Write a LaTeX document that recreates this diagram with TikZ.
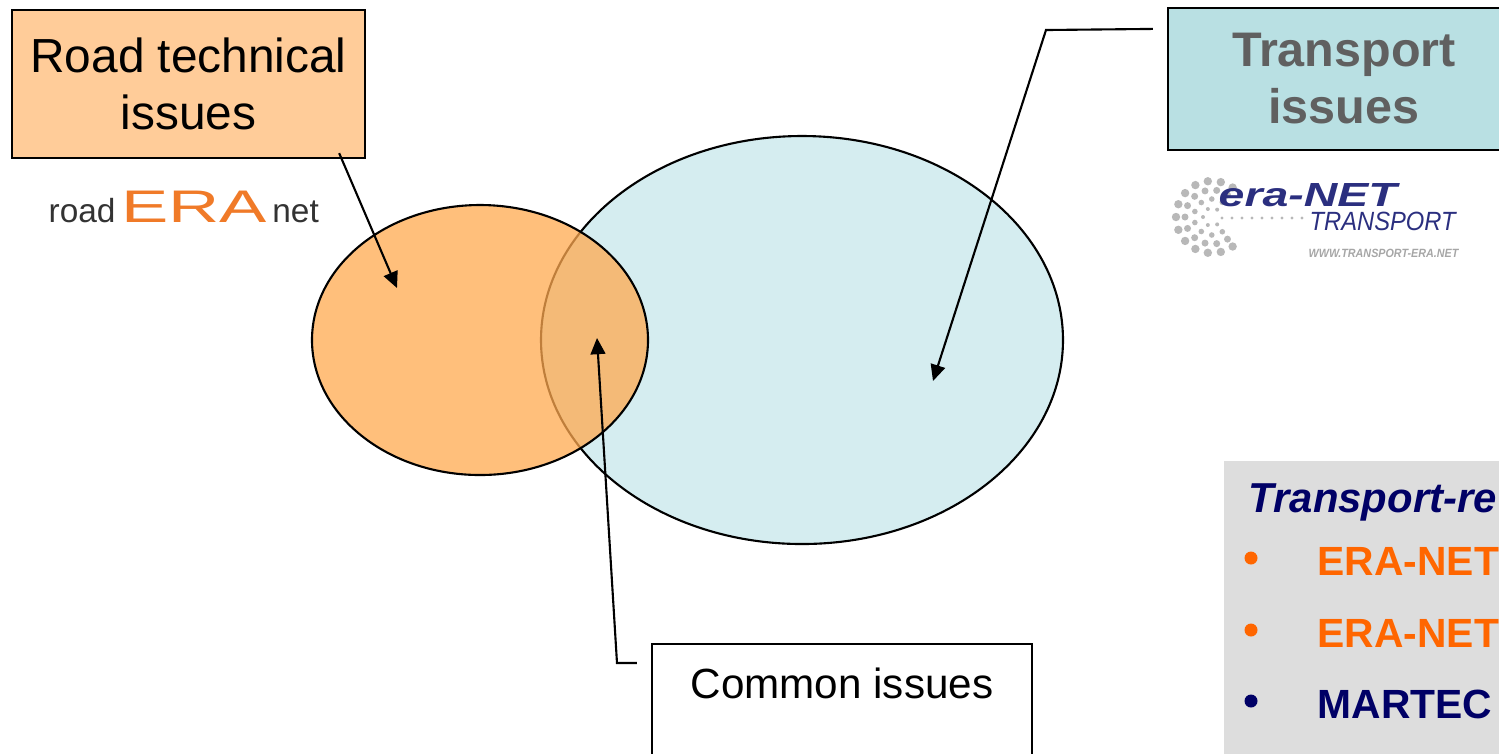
\documentclass[tikz,border=0pt]{standalone}
\usepackage{fontspec}
\setmainfont{Liberation Sans}
\usetikzlibrary{calc,positioning,arrows.meta}

\definecolor{roadfill}{HTML}{FFCC99}
\definecolor{roadell}{HTML}{FFA94F}
\definecolor{transfill}{HTML}{B9E0E3}
\definecolor{transell}{HTML}{D5EDF0}
\definecolor{panelgray}{HTML}{DDDDDD}
\definecolor{navy}{HTML}{000066}
\definecolor{eraorange}{HTML}{FF6600}
\definecolor{logoorange}{HTML}{F07A28}
\definecolor{logogray}{HTML}{333333}
\definecolor{logoblue}{HTML}{2B2F7F}
\definecolor{dotgray}{HTML}{B8B8B8}
\definecolor{labelgray}{HTML}{606060}

\tikzset{
  issuebox/.style={draw=black, line width=0.6pt, inner sep=0pt},
  pointer/.style={line width=0.6pt, -{Triangle[length=4.6pt,width=4.2pt]}},
}

\begin{document}
\begin{tikzpicture}[x=0.01cm, y=-0.01cm]
  \useasboundingbox (0,0) rectangle (1499,753);

  % venn ellipses
  \draw[line width=0.6pt, fill=transell] (802,340) ellipse [x radius=261, y radius=204];
  \draw[line width=0.6pt, fill=roadell, fill opacity=0.75] (480,340) ellipse [x radius=168, y radius=135];

  % issue boxes
  \node[issuebox, fill=roadfill, minimum width=3.53cm, minimum height=1.48cm, align=center,
        font=\fontsize{13.6}{16}\selectfont] (road) at (188.5,84) {Road technical\\ issues};
  \node[issuebox, fill=transfill, minimum width=3.52cm, minimum height=1.42cm, align=center,
        text=labelgray, font=\bfseries\fontsize{13.8}{16.2}\selectfont] (transp) at (1344,79) {Transport\\issues};
  \node[issuebox, fill=white, minimum width=3.8cm, anchor=north, inner ysep=7pt, text height=8.6pt,
        text depth=30pt, font=\fontsize{12}{14}\selectfont] (common) at (842,643) {Common issues};

  % connectors
  \coordinate (roadtip) at (397,288);
  \draw[pointer] ($(road.south east)+(-27,-6)$) -- (roadtip);

  \coordinate (transbend) at (1046,30);
  \coordinate (transtip) at (933,381);
  \draw[pointer] ($(transp.north west)+(-14,22)$) -- (transbend) -- (transtip);

  \coordinate (combend) at (617,663);
  \coordinate (comtip) at (597,338);
  \draw[pointer] ($(common.north west)+(-14,20)$) -- (combend) -- (comtip);

  % road era-net logo
  \node[anchor=base west, inner sep=0pt, font=\fontsize{9.5}{10}\selectfont] (roadlogo) at (48,222)
    {{\color{logogray}road}\,{\color{logoorange}\fontsize{13}{13}\selectfont\scalebox{1.55}[1]{ERA}}\,{\color{logogray}net}};

  % era-net transport logo
  \coordinate (dotc) at (1212,217);
  \foreach \r/\n/\s in {9/4/2.0, 18/7/2.8, 27/10/3.5, 36/12/4.2}
    \foreach \k in {0,...,\n}
      \fill[dotgray] ($(dotc)+({55+\k*250/\n}:\r)$) circle (\s);
  \foreach \i in {0,...,8}
    \fill[dotgray] (1222+\i*10,218) circle (1.6);
  \node[anchor=base west, inner sep=0pt, text=logoblue, font=\bfseries\itshape\fontsize{9.5}{10}\selectfont]
    (eranet) at (1218,206) {\scalebox{1.39}[1]{era-NET}};
  \node[anchor=base west, inner sep=0pt, text=logoblue, font=\itshape\fontsize{7.5}{8}\selectfont]
    (eratrans) at (1309,230) {\scalebox{0.9}[1]{TRANSPORT}};
  \node[anchor=base west, inner sep=0pt, text=gray!70, font=\bfseries\itshape\fontsize{3.4}{4}\selectfont]
    (eraweb) at (1308,257) {\scalebox{0.9}[1]{WWW.TRANSPORT-ERA.NET}};

  % transport research panel
  \fill[panelgray] (1224,461) rectangle (1520,770);
  \node[anchor=base west, inner sep=0pt, text=navy, font=\bfseries\itshape\fontsize{11.9}{14}\selectfont]
    (paneltitle) at (1248,512) {Transport-re};
  \foreach \y/\c/\t/\nm in {575/eraorange/ERA-NET/itemA, 647/eraorange/ERA-NET/itemB, 718/navy/MARTEC/itemC}{
    \fill[\c] (1251,\y-17) circle (6.5);
    \node[anchor=base west, inner sep=0pt, text=\c, font=\bfseries\fontsize{11.6}{14}\selectfont]
      (\nm) at (1317,\y) {\t};
  }
\end{tikzpicture}
\end{document}
